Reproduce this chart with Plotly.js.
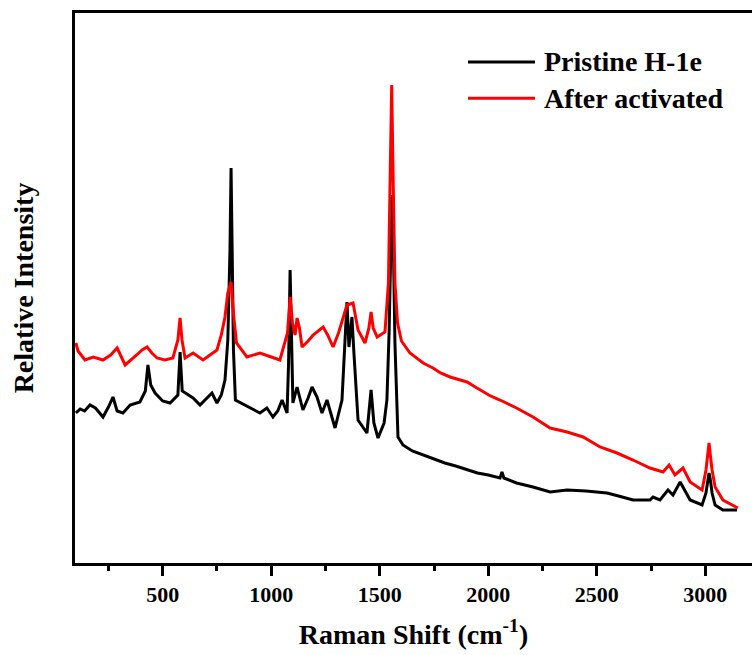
<!DOCTYPE html>
<html>
<head>
<meta charset="utf-8">
<script src="https://cdn.plot.ly/plotly-3.0.1.min.js"></script>
<style>html,body{margin:0;padding:0;background:#fff;}#chart{width:752px;height:655px;}</style>
</head>
<body>
<div id="chart"></div>
<script>
// Raman shift (cm-1) and relative intensity (a.u.)
const pristineShift = [100,120,140,165,190,225,250,271,290,317,350,395,420,432,445,465,500,534,570,580,590,603,640,672,700,727,750,770,787,800,810,815,820,826,835,880,948,980,1008,1030,1050,1073,1080,1087,1094,1100,1119,1146,1170,1188,1211,1234,1257,1294,1326,1340,1349,1358,1372,1381,1400,1441,1460,1473,1492,1520,1533,1543,1550,1556,1562,1570,1584,1607,1650,1700,1745,1800,1850,1902,1950,2000,2054,2063,2072,2130,2206,2285,2363,2450,2547,2600,2667,2745,2759,2791,2828,2851,2884,2930,2985,3003,3010,3017,3024,3031,3045,3081,3146];
const pristineInt   = [150,154,152,158,155,146,156,166,152,150,158,161,172,198,178,170,162,160,168,211,172,170,165,158,164,170,160,168,183,223,313,395,313,213,163,158,150,155,146,152,163,150,200,293,200,160,176,153,165,176,166,150,163,135,163,215,261,216,246,210,143,130,173,140,125,140,163,230,330,368,330,220,126,118,112,108,105,100,97,93,90,88,85,91,85,80,76,71,73,72,70,67,63,63,66,63,73,68,81,63,58,70,82,90,82,70,58,53,53];

const activatedShift = [100,110,142,180,225,260,290,310,327,380,405,428,450,474,510,547,570,580,589,603,640,686,720,750,770,787,800,815,828,840,888,948,1000,1040,1075,1087,1098,1110,1119,1130,1142,1170,1193,1215,1239,1260,1285,1310,1331,1349,1377,1400,1432,1450,1460,1470,1488,1524,1540,1548,1555,1562,1570,1582,1600,1639,1700,1745,1780,1824,1860,1902,1940,1976,2010,2054,2130,2206,2285,2363,2437,2515,2593,2667,2745,2805,2833,2860,2897,2930,2985,3003,3010,3017,3024,3031,3045,3081,3150];
const activatedInt   = [220,212,203,206,203,208,215,206,198,208,213,216,210,205,203,205,223,245,223,205,210,203,208,213,228,246,270,281,245,220,206,210,206,203,230,266,240,228,245,235,216,222,228,232,236,228,216,230,246,258,260,233,220,235,251,235,226,231,280,380,478,380,280,240,222,210,200,195,190,186,184,181,176,171,167,163,155,146,135,131,126,116,110,103,95,91,98,88,95,81,73,93,106,120,106,93,76,63,55];

const seriesNames = ["Pristine H-1e", "After activated"];
const seriesColors = ["#000000", "#ff0000"];
const xTickVals = [500,1000,1500,2000,2500,3000];

const serif = "'Liberation Serif','Times New Roman',serif";

const traces = [
  {x: pristineShift, y: pristineInt, type: 'scatter', mode: 'lines', name: seriesNames[0],
   line: {color: seriesColors[0], width: 3}},
  {x: activatedShift, y: activatedInt, type: 'scatter', mode: 'lines', name: seriesNames[1],
   line: {color: seriesColors[1], width: 3}}
];

// manual legend (long line samples like the reference)
const legY = [0.911, 0.845];
const shapes = [], annotations = [];
seriesNames.forEach((n, i) => {
  shapes.push({type: 'line', xref: 'paper', yref: 'paper', x0: 0.5805, x1: 0.6795, y0: legY[i], y1: legY[i],
    line: {color: seriesColors[i], width: 3}});
  annotations.push({xref: 'paper', yref: 'paper', x: 0.690, y: legY[i], xanchor: 'left', yanchor: 'middle',
    text: n, showarrow: false, font: {family: serif, size: 28, color: '#000', weight: 'bold'}});
});

const layout = {
  width: 752, height: 655,
  margin: {l: 75, r: 0, t: 13, b: 92},
  paper_bgcolor: '#fff', plot_bgcolor: '#fff',
  showlegend: false,
  xaxis: {
    range: [96, 3215], tickvals: xTickVals, ticktext: xTickVals.map(String),
    showgrid: false, zeroline: false,
    showline: true, linecolor: '#000', linewidth: 3, mirror: true,
    ticks: 'outside', ticklen: 10, tickwidth: 3, tickcolor: '#000',
    minor: {ticks: 'outside', ticklen: 5, tickwidth: 3, tickcolor: '#000', tickvals: [250,750,1250,1750,2250,2750]},
    tickfont: {family: serif, size: 22, color: '#000', weight: 'bold'},
    title: {text: 'Raman Shift (cm<sup>-1</sup>)', font: {family: serif, size: 28, color: '#000', weight: 'bold'}, standoff: 18}
  },
  yaxis: {
    range: [0, 550], showticklabels: false, ticks: '',
    showgrid: false, zeroline: false,
    showline: true, linecolor: '#000', linewidth: 3, mirror: false,
    title: {text: 'Relative Intensity', font: {family: serif, size: 28, color: '#000', weight: 'bold'}, standoff: 31}
  },
  shapes: shapes,
  annotations: annotations
};

Plotly.newPlot('chart', traces, layout, {displayModeBar: false, staticPlot: true});
</script>
</body>
</html>
